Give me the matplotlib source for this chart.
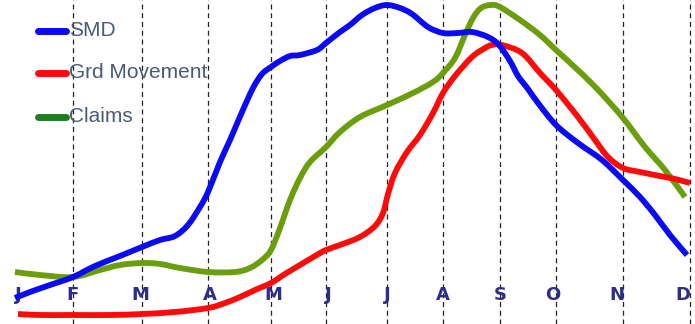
import matplotlib
matplotlib.use('Agg')
import matplotlib.pyplot as plt
from matplotlib.path import Path
from matplotlib.patches import PathPatch

# month labels and where they sit along the x axis (irregular in the source)
months = ['J', 'F', 'M', 'A', 'M', 'J', 'J', 'A', 'S', 'O', 'N', 'D']
month_pos = [18, 73, 140, 210, 273, 328, 387, 443, 500, 553, 617, 683]
grid_pos = [73, 142, 208, 271, 326, 387, 443, 500, 556, 623, 690]

# SMD (blue)
smd_x = [15, 30, 50, 73, 95, 120, 142, 160, 175, 188, 200, 208, 220, 230, 242,
         253, 262, 271, 280, 290, 300, 317, 326, 340, 350, 362, 375, 387, 400,
         412, 428, 443, 458, 472, 488, 499, 510, 518, 528, 538, 556, 578, 602,
         623, 640, 655, 670, 687]
smd_y = [26, 32, 39, 47, 58, 68, 77, 84, 88, 99, 117, 132, 162, 184, 212,
         236, 250, 257, 263, 268, 269, 274, 281, 292, 299, 309, 316, 319, 316,
         310, 297, 291, 291, 292, 287, 279, 263, 248, 235, 221, 199, 181, 164,
         144, 127, 109, 89, 69]

# Grd Movement (red)
grd_x = [18, 40, 73, 110, 142, 175, 208, 225, 240, 255, 271, 285, 300, 315,
         326, 340, 360, 375, 383, 388, 395, 407, 420, 433, 443, 455, 472, 485,
         492, 502, 522, 540, 556, 578, 595, 608, 623, 640, 660, 675, 690]
grd_y = [10, 9, 9, 9, 10, 12, 16, 21, 27, 34, 41, 50, 59, 68,
         74, 79, 87, 98, 111, 130, 151, 172, 189, 211, 231, 248, 267, 276,
         279, 279, 271, 251, 234, 207, 184, 167, 156, 152, 148, 145, 141]

# Claims (green)
clm_x = [15, 40, 73, 100, 120, 142, 160, 180, 208, 235, 250, 262, 271, 280,
         290, 300, 310, 326, 340, 360, 387, 413, 433, 443, 455, 465, 473,
         481, 491, 500, 520, 540, 556, 580, 600, 623, 645, 665, 685]
clm_y = [52, 49, 47, 54, 59, 61, 60, 56, 52, 52, 56, 64, 74, 96,
         124, 146, 162, 177, 192, 207, 219, 231, 242, 251, 266, 289, 306,
         316, 319, 317, 304, 289, 274, 252, 232, 206, 177, 154, 127]


def smooth_path(xs, ys):
    # Catmull-Rom through the points, drawn as cubic bezier segments
    pts = list(zip(xs, ys))
    verts = [pts[0]]
    codes = [Path.MOVETO]
    for i in range(len(pts) - 1):
        p0 = pts[i - 1] if i > 0 else pts[i]
        p1 = pts[i]
        p2 = pts[i + 1]
        p3 = pts[i + 2] if i + 2 < len(pts) else pts[i + 1]
        c1 = (p1[0] + (p2[0] - p0[0]) / 6, p1[1] + (p2[1] - p0[1]) / 6)
        c2 = (p2[0] - (p3[0] - p1[0]) / 6, p2[1] - (p3[1] - p1[1]) / 6)
        verts += [c1, c2, p2]
        codes += [Path.CURVE4] * 3
    return Path(verts, codes)


fig = plt.figure(figsize=(6.95, 3.24), dpi=100)
ax = fig.add_axes([0, 0, 1, 1])
ax.set_xlim(0, 695)
ax.set_ylim(0, 324)
ax.axis('off')

for gx in grid_pos:
    ax.axvline(gx, color='#222222', lw=0.9, linestyle=(0, (4, 3)), zorder=1)

lw = 4.2
series = [(clm_x, clm_y, '#6b9e0c', 3), (grd_x, grd_y, '#ff0a0a', 3), (smd_x, smd_y, '#0a0af5', 4)]
for xs, ys, col, z in series:
    ax.add_patch(PathPatch(smooth_path(xs, ys), fill=False, edgecolor=col, lw=lw,
                           capstyle='butt', joinstyle='round', zorder=z))

for m, mx in zip(months, month_pos):
    ax.text(mx, 29, m, ha='center', va='center', fontsize=13, fontweight='bold',
            color='#2e2e8a', family='DejaVu Sans', zorder=2)

# legend drawn by hand: short thick swatch then label
legend = [('SMD', '#0a0af5', 293), ('Grd Movement', '#ff0a0a', 251), ('Claims', '#1f7f1f', 207)]
for name, col, ly in legend:
    ax.plot([38, 66], [ly, ly], color=col, lw=5, solid_capstyle='round', zorder=5)
    ax.text(69, ly, name, ha='left', va='center', fontsize=15, color='#4a5a78',
            family='Liberation Sans', zorder=5)

fig.savefig('out.png', dpi=100)
